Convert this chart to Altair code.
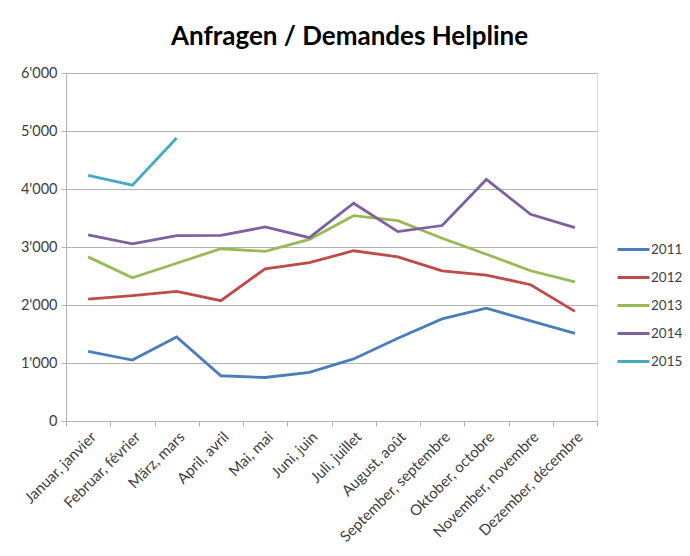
import altair as alt
import pandas as pd

months = ["Januar, janvier", "Februar, février", "März, mars", "April, avril",
          "Mai, mai", "Juni, juin", "Juli, juillet", "August, août",
          "September, septembre", "Oktober, octobre", "November, novembre",
          "Dezember, décembre"]

years = ["2011", "2012", "2013", "2014", "2015"]

v2011 = [1200, 1050, 1450, 780, 750, 840, 1070, 1425, 1760, 1945, 1725, 1510]
v2012 = [2100, 2160, 2235, 2075, 2625, 2730, 2935, 2830, 2590, 2515, 2350, 1890]
v2013 = [2830, 2470, 2720, 2970, 2925, 3130, 3540, 3455, 3150, 2875, 2590, 2400]
v2014 = [3210, 3055, 3195, 3200, 3345, 3160, 3755, 3265, 3370, 4165, 3565, 3335]
v2015 = [4235, 4065, 4880]

colors = ["#4A7EBB", "#BE4B48", "#98B954", "#7D60A0", "#46AAC5"]

series = [v2011, v2012, v2013, v2014, v2015]
rows = []
for y, vals in zip(years, series):
    for m, v in zip(months, vals):
        rows.append({"Monat": m, "Jahr": y, "Anfragen": v})
df = pd.DataFrame(rows)

FONT = "Lato"
TXT = "#404040"
GRID = "#B3B3B3"

chart = alt.Chart(df).mark_line(strokeWidth=2.8).encode(
    x=alt.X("Monat:N", sort=months, title=None,
            scale=alt.Scale(paddingInner=0, paddingOuter=0),
            axis=alt.Axis(labelAngle=-45, labelFontSize=15, labelColor=TXT,
                          labelFont=FONT, tickBand="extent", tickSize=5,
                          tickColor=GRID, domainColor=GRID, labelPadding=3,
                          grid=False, labelLimit=250)),
    y=alt.Y("Anfragen:Q", title=None,
            scale=alt.Scale(domain=[0, 6000]),
            axis=alt.Axis(values=[0, 1000, 2000, 3000, 4000, 5000, 6000],
                          labelExpr="datum.value >= 1000 ? floor(datum.value/1000) + \"'000\" : datum.label",
                          labelFontSize=14.5, labelColor=TXT, labelFont=FONT,
                          tickSize=5, tickColor=GRID, domainColor=GRID,
                          gridColor=GRID, labelPadding=4)),
    color=alt.Color("Jahr:N", scale=alt.Scale(domain=years, range=colors),
                    legend=alt.Legend(title=None, orient="none", legendX=550, legendY=159,
                                      symbolType="stroke", symbolSize=1024,
                                      symbolStrokeWidth=3, labelFontSize=13.5,
                                      labelColor=TXT, labelFont=FONT, rowPadding=4,
                                      labelOffset=0)),
).properties(
    width=531, height=348,
    autosize=alt.AutoSizeParams(type="none"),
    padding={"left": 58, "top": 65, "right": 85, "bottom": 130},
    title=alt.TitleParams("Anfragen / Demandes Helpline", fontSize=26, font=FONT,
                          fontWeight="bold", color="#000000", anchor="middle",
                          dx=18, offset=15),
).configure_view(stroke=None).configure(background="white")

chart.save("out.html", embed_options={"renderer": "svg", "actions": False})
